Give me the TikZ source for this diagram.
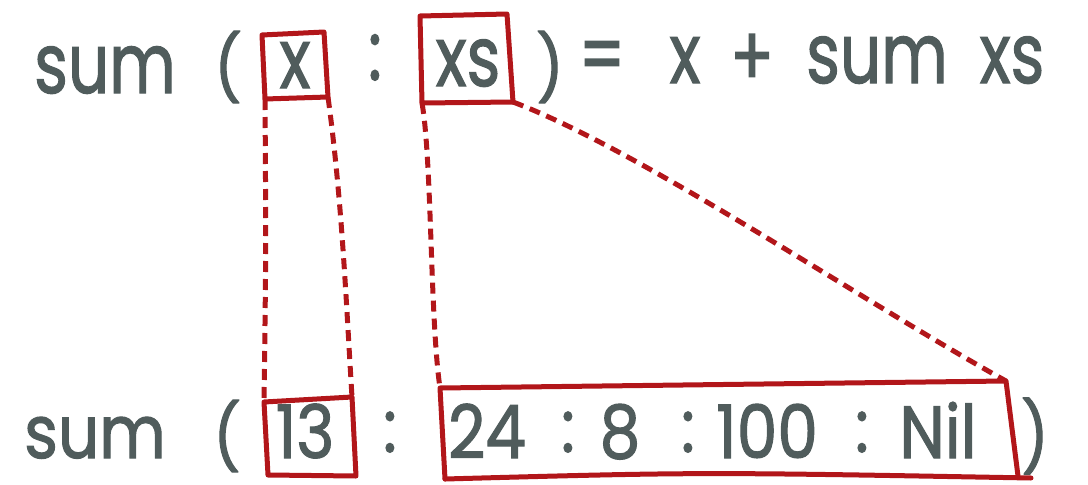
\documentclass[tikz,border=0pt]{standalone}
\usepackage{fontspec}
\setmainfont{Poppins}
\newfontfamily\hwfont{Poppins}[FakeBold=1.6]
\usepackage{graphicx}
\definecolor{ink}{HTML}{505C5C}
\definecolor{redbox}{HTML}{B2161A}
\newcommand{\hw}[1]{\scalebox{0.85}[1.1]{#1}}
\newcommand{\hwb}[1]{\scalebox{0.85}[0.97]{#1}}
\tikzset{
  txt/.style={text=ink, inner sep=0pt, anchor=base, font=\hwfont\fontsize{76}{76}\selectfont},
  paren/.style={txt, anchor=center},
  boxline/.style={draw=redbox, line width=5pt, line join=round, line cap=round},
  dashline/.style={draw=redbox, line width=5pt, dash pattern=on 11pt off 7pt}
}
\begin{document}
\begin{tikzpicture}[x=1pt,y=-1pt]
\useasboundingbox (0,0) rectangle (1088,485);
% top row
\node[txt] (t1) at (105,93) {\hw{sum}};
\node[paren] (t2) at (228,67) {\scalebox{0.8}[0.85]{(}};
\node[txt] (t3) at (295,88) {\hw{x}};
\node[txt] (t4) at (375,80) {\hw{:}};
\node[txt] (t5) at (468,86) {\hw{xs}};
\node[paren] (t6) at (550,67) {\scalebox{0.8}[0.85]{)}};
\node[txt] (t7) at (602,84) {\hw{=}};
\node[txt] (t8) at (685,83) {\hw{x}};
\node[txt] (t9) at (752,86) {\hw{+}};
\node[txt] (t10) at (877,83) {\hw{sum}};
\node[txt] (t11) at (1012,83) {\hw{xs}};
% bottom row
\node[txt] (b1) at (95,458) {\hwb{sum}};
\node[paren] (b2) at (227,436) {\scalebox{0.8}[0.85]{(}};
\node[txt] (b3) at (305,458) {\hwb{13}};
\node[txt] (b4) at (390,452) {\hwb{:}};
\node[txt] (b5) at (487,458) {\hwb{24}};
\node[txt] (b6) at (568,452) {\hwb{:}};
\node[txt] (b7) at (620,458) {\hwb{8}};
\node[txt] (b8) at (688,452) {\hwb{:}};
\node[txt] (b9) at (767,458) {\hwb{100}};
\node[txt] (b10) at (862,452) {\hwb{:}};
\node[txt] (b11) at (938,458) {\hwb{Nil}};
\node[paren] (b12) at (1035,436) {\scalebox{0.8}[0.9]{)}};
% box corners
\coordinate (xa) at (262,35); \coordinate (xb) at (324,32);
\coordinate (xc) at (328,97); \coordinate (xd) at (265,99);
\coordinate (sa) at (420,16); \coordinate (sb) at (507,14);
\coordinate (sc) at (513,102); \coordinate (sd) at (422,103);
\coordinate (na) at (264,402); \coordinate (nb) at (352,397);
\coordinate (nc) at (356,476); \coordinate (nd) at (268,475);
\coordinate (la) at (440,388); \coordinate (lb) at (1006,381);
\coordinate (lc) at (1018,476); \coordinate (ld) at (445,479);
\coordinate (le) at (1031,478);
% boxes
\draw[boxline] (xa) -- (xb) -- (xc) -- (xd) -- cycle;
\draw[boxline] (sa) -- (sb) -- (sc) -- (sd) -- cycle;
\draw[boxline] (na) -- (nb) -- (nc) -- (nd) -- cycle;
\draw[boxline] (ld) -- (la) -- (lb) -- (lc);
\draw[boxline] (ld) .. controls (700,472) .. (le);
% dashed connectors
\draw[dashline] (xd) .. controls (266,250) .. (na);
\draw[dashline] (xc) .. controls (342,200) and (346,300) .. (nb);
\draw[dashline] (sd) .. controls (432,160) and (430,320) .. (la);
\draw[dashline] (sc) .. controls (640,150) and (860,300) .. (lb);
\end{tikzpicture}
\end{document}
